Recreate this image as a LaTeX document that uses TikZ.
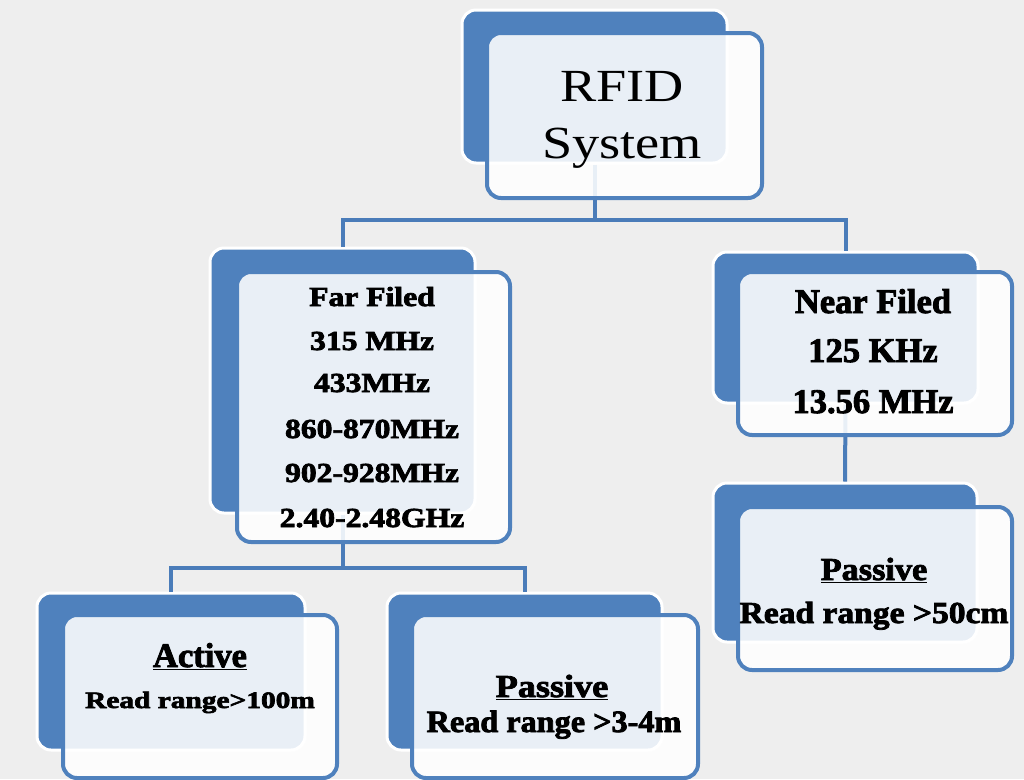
\documentclass[tikz,border=0pt]{standalone}
\usepackage{fontspec}
\setmainfont{Liberation Serif}[BoldFeatures={FakeBold=2.5}]
\usepackage{graphicx}
\definecolor{bgcol}{HTML}{EEEEEE}
\definecolor{rfblue}{HTML}{4F81BD}
\definecolor{rfline}{HTML}{4A7CB9}
% horizontally stretched text at a given size: \sx{xscale}{size}{text}
\newcommand\sx[3]{\scalebox{#1}[1]{\fontsize{#2}{#2}\selectfont #3}}
\tikzset{
  backbox/.style={draw=white, line width=3pt, fill=rfblue, rounded corners=14pt,
    inner sep=0pt},
  frontbox/.style={draw=rfblue, line width=4pt, fill=white, fill opacity=0.88,
    rounded corners=14pt, inner sep=0pt},
  conn/.style={draw=rfline, line width=4pt},
  txt/.style={anchor=base, inner sep=0pt, font=\bfseries},
}
\begin{document}
\begin{tikzpicture}[x=1pt, y=-1pt]
\fill[bgcol] (0,0) rectangle (1024,779);
\useasboundingbox (0,0) rectangle (1024,779);

% back panels
\node[backbox, minimum width=265pt, minimum height=153pt] (rfidB) at (594.5,86.5) {};
\node[backbox, minimum width=265pt, minimum height=265pt] (farB) at (342.5,380.5) {};
\node[backbox, minimum width=265pt, minimum height=151pt] (nearB) at (845.5,327.5) {};
\node[backbox, minimum width=264pt, minimum height=159pt] (npB) at (845,562.5) {};
\node[backbox, minimum width=268pt, minimum height=157pt] (actB) at (171,671.5) {};
\node[backbox, minimum width=275pt, minimum height=157pt] (ppB) at (524.5,671.5) {};

% connectors
\coordinate (bus1) at (594.5,220);
\coordinate (bus2) at (342.5,568);
\draw[conn] (rfidB.south) -- (bus1);
\draw[conn] (farB.north) |- (bus1) -| (nearB.north);
\draw[conn] (farB.south) -- (bus2);
\draw[conn] (actB.north) |- (bus2) -| (ppB.north);
\draw[conn] (nearB.south) -- (npB.north);

% front panels
\node[frontbox, minimum width=275pt, minimum height=165pt] (rfid) at (624.5,115.5) {};
\node[frontbox, minimum width=273pt, minimum height=270pt] (far) at (373.5,407) {};
\node[frontbox, minimum width=274pt, minimum height=163pt] (near) at (875,353.5) {};
\node[frontbox, minimum width=274pt, minimum height=163pt] (np) at (875,588.5) {};
\node[frontbox, minimum width=274pt, minimum height=163pt] (act) at (200,696.5) {};
\node[frontbox, minimum width=286pt, minimum height=163pt] (pp) at (555,696.5) {};

% labels
\node[txt, font=\mdseries] (rfid1) at (622,101) {\sx{1.18}{46}{RFID}};
\node[txt, font=\mdseries] (rfid2) at (622,158) {\sx{1.18}{46}{System}};

\node[txt] (far1) at (372,306) {\sx{1.15}{27.5}{Far Filed}};
\node[txt] (far2) at (372,350) {\sx{1.15}{27.5}{315 MHz}};
\node[txt] (far3) at (372,392) {\sx{1.15}{27.5}{433MHz}};
\node[txt] (far4) at (372,438) {\sx{1.15}{27.5}{860-870MHz}};
\node[txt] (far5) at (372,482) {\sx{1.15}{27.5}{902-928MHz}};
\node[txt] (far6) at (372,527) {\sx{1.15}{27.5}{2.40-2.48GHz}};

\node[txt] (near1) at (873,313) {\sx{1.0}{34.5}{Near Filed}};
\node[txt] (near2) at (873,362) {\sx{1.0}{34.5}{125 KHz}};
\node[txt] (near3) at (873,413) {\sx{1.0}{34.5}{13.56 MHz}};

\node[txt] (np1) at (874,580) {\sx{1.07}{32}{\underline{Passive}}};
\node[txt] (np2) at (874,623) {\sx{1.1}{30.5}{Read range >50cm}};

\node[txt] (act1) at (200,667) {\sx{1.0}{34.5}{\underline{Active}}};
\node[txt] (act2) at (200,708) {\sx{1.25}{23.5}{Read range>100m}};

\node[txt] (pp1) at (552,697) {\sx{1.13}{32}{\underline{Passive}}};
\node[txt] (pp2) at (554,732) {\sx{1.04}{31}{Read range >3-4m}};
\end{tikzpicture}
\end{document}
